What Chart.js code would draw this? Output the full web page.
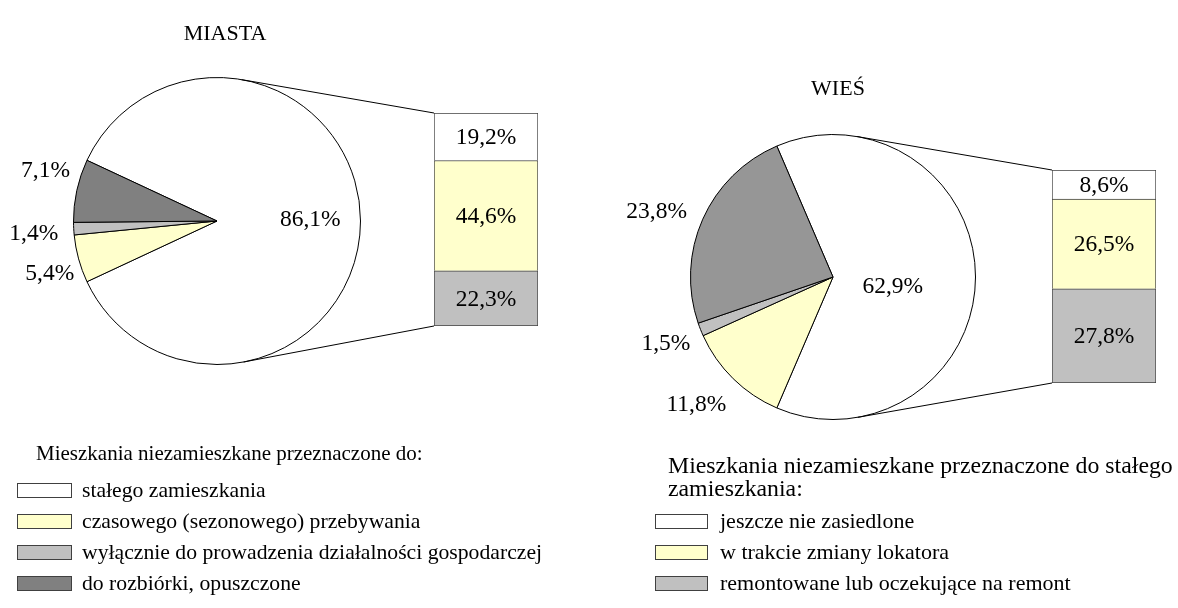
<!DOCTYPE html>
<html>
<head>
<meta charset="utf-8">
<script src="https://cdn.jsdelivr.net/npm/chart.js@4.4.1/dist/chart.umd.min.js"></script>
<style>
  body { margin: 0; background: #fff; }
  #wrap { position: relative; width: 1178px; height: 608px; overflow: hidden;
          font-family: "Liberation Serif", "Times New Roman", serif; color: #000; }
  #wrap canvas { position: absolute; left: 0; top: 0; }
  .txt { position: absolute; font-size: 22px; line-height: 26px; white-space: nowrap; }
  .box { position: absolute; width: 53px; height: 13px; border: 1px solid #404040; }
</style>
</head>
<body>
<div id="wrap">
  <canvas id="pieCity" width="1178" height="608"></canvas>
  <canvas id="barCity" width="1178" height="608"></canvas>
  <canvas id="pieVillage" width="1178" height="608"></canvas>
  <canvas id="barVillage" width="1178" height="608"></canvas>
</div>
<script>
// dane
var cityTitle = 'MIASTA';
var villageTitle = 'WIEŚ';

var pieHeader = 'Mieszkania niezamieszkane przeznaczone do:';
var pieLabels = ['stałego zamieszkania', 'czasowego (sezonowego) przebywania',
                 'wyłącznie do prowadzenia działalności gospodarczej', 'do rozbiórki, opuszczone'];
var cityPie = [86.1, 5.4, 1.4, 7.1];
var villagePie = [62.9, 11.8, 1.5, 23.8];

var barHeader = 'Mieszkania niezamieszkane przeznaczone do stałego<br>zamieszkania:';
var barLabels = ['jeszcze nie zasiedlone', 'w trakcie zmiany lokatora', 'remontowane lub oczekujące na remont'];
var cityBar = [19.2, 44.6, 22.3];
var villageBar = [8.6, 26.5, 27.8];

// kolory
var cityPieColors = ['#ffffff', '#ffffcc', '#c0c0c0', '#808080'];
var villagePieColors = ['#ffffff', '#ffffcc', '#c0c0c0', '#969696'];
var barColors = ['#ffffff', '#ffffcc', '#c0c0c0'];

var FONT = '23.5px "Liberation Serif", "Times New Roman", serif';

function fmt(v) {
  return v.toFixed(1).replace('.', ',') + '%';
}

var pieLabelPlugin = {
  id: 'pieLabels',
  afterDatasetsDraw: function(chart, args, opts) {
    var ctx = chart.ctx;
    var vals = chart.data.datasets[0].data;
    ctx.save();
    ctx.font = FONT;
    ctx.fillStyle = '#000';
    ctx.textAlign = 'center';
    ctx.textBaseline = 'middle';
    chart.getDatasetMeta(0).data.forEach(function(arc, i) {
      var p = arc.getProps(['x', 'y', 'startAngle', 'endAngle', 'outerRadius'], true);
      var mid = (p.startAngle + p.endAngle) / 2;
      var dist = i === 0 ? p.outerRadius * opts.inside : p.outerRadius + opts.outside;
      var n = opts.nudge[i] || [0, 0];
      ctx.fillText(fmt(vals[i]), p.x + Math.cos(mid) * dist + n[0], p.y + Math.sin(mid) * dist + n[1]);
    });
    ctx.restore();
  }
};

// etykiety w slupku + linie laczace z kolem
var barExtrasPlugin = {
  id: 'barExtras',
  afterDraw: function(chart, args, opts) {
    var ctx = chart.ctx;
    ctx.save();
    ctx.font = FONT;
    ctx.fillStyle = '#000';
    ctx.textAlign = 'center';
    ctx.textBaseline = 'middle';
    chart.data.datasets.forEach(function(ds, di) {
      var el = chart.getDatasetMeta(di).data[0];
      var p = el.getProps(['x', 'y', 'base'], true);
      ctx.fillText(fmt(ds.data[0]), p.x, (p.y + p.base) / 2 + 1);
    });

    var arc = opts.pie.getDatasetMeta(0).data[0];
    var c = arc.getProps(['x', 'y', 'outerRadius'], true);
    var yScale = chart.scales.y;
    var left = chart.chartArea.left;
    var corners = [[left, yScale.getPixelForValue(yScale.max), -1], [left, yScale.getPixelForValue(0), 1]];
    ctx.strokeStyle = '#000';
    ctx.lineWidth = 1;
    corners.forEach(function(pt) {
      var vx = pt[0] - c.x, vy = pt[1] - c.y;
      var d = Math.sqrt(vx * vx + vy * vy);
      var a = Math.atan2(vy, vx) + pt[2] * Math.acos(c.outerRadius / d);
      ctx.beginPath();
      ctx.moveTo(c.x + Math.cos(a) * c.outerRadius, c.y + Math.sin(a) * c.outerRadius);
      ctx.lineTo(pt[0], pt[1]);
      ctx.stroke();
    });
    ctx.restore();
  }
};

function makePie(id, values, colors, padding, labelOpts) {
  var total = values.reduce(function(s, v) { return s + v; }, 0);
  // duzy wycinek ustawiony srodkiem w strone slupka
  var rotation = 90 - values[0] / total * 180;
  return new Chart(document.getElementById(id).getContext('2d'), {
    type: 'pie',
    data: {
      labels: pieLabels,
      datasets: [{ data: values, backgroundColor: colors, borderColor: '#000', borderWidth: 1 }]
    },
    options: {
      responsive: false,
      animation: false,
      rotation: rotation,
      layout: { padding: padding },
      plugins: { legend: { display: false }, tooltip: { enabled: false }, pieLabels: labelOpts }
    },
    plugins: [pieLabelPlugin]
  });
}

function makeBar(id, values, pie, padding) {
  var total = values.reduce(function(s, v) { return s + v; }, 0);
  var datasets = [];
  for (var i = values.length - 1; i >= 0; i--) {
    datasets.push({
      label: barLabels[i],
      data: [values[i]],
      backgroundColor: barColors[i],
      borderColor: '#404040',
      borderWidth: { top: 1, left: 1, right: 1, bottom: i === values.length - 1 ? 1 : 0 },
      borderSkipped: false,
      barPercentage: 1,
      categoryPercentage: 1
    });
  }
  return new Chart(document.getElementById(id).getContext('2d'), {
    type: 'bar',
    data: { labels: [''], datasets: datasets },
    options: {
      responsive: false,
      animation: false,
      layout: { padding: padding },
      scales: {
        x: { display: false, stacked: true },
        y: { display: false, stacked: true, min: 0, max: total }
      },
      plugins: { legend: { display: false }, tooltip: { enabled: false }, barExtras: { pie: pie } }
    },
    plugins: [barExtrasPlugin]
  });
}

var pieCity = makePie('pieCity', cityPie, cityPieColors,
  { left: 73, top: 77, right: 817, bottom: 243 },
  { inside: 0.65, outside: 34, nudge: [[0, -1], [4, 6], [-6, 3], [2, -13]] });
var pieVillage = makePie('pieVillage', villagePie, villagePieColors,
  { left: 690, top: 134, right: 202, bottom: 188 },
  { inside: 0.42, outside: 34, nudge: [[0, 10], [-13, 2], [-3, 2], [-15, 6]] });

makeBar('barCity', cityBar, pieCity, { left: 434, top: 113, right: 640, bottom: 282 });
makeBar('barVillage', villageBar, pieVillage, { left: 1052, top: 170, right: 22, bottom: 225 });

// tytuly i legendy
var wrap = document.getElementById('wrap');
function addText(html, left, top, extra) {
  var d = document.createElement('div');
  d.className = 'txt';
  d.innerHTML = html;
  d.style.left = left + 'px';
  d.style.top = top + 'px';
  if (extra) Object.assign(d.style, extra);
  wrap.appendChild(d);
}
function addBox(color, left, top, width) {
  var b = document.createElement('div');
  b.className = 'box';
  b.style.background = color;
  b.style.left = left + 'px';
  b.style.top = top + 'px';
  b.style.width = width + 'px';
  wrap.appendChild(b);
}

addText(cityTitle, 125, 20);
addText(villageTitle, 738, 75);
wrap.lastChild.style.width = wrap.lastChild.previousSibling.style.width = '200px';
wrap.lastChild.style.textAlign = wrap.lastChild.previousSibling.style.textAlign = 'center';

addText(pieHeader, 36, 440, { fontSize: '21px' });
pieLabels.forEach(function(lab, i) {
  addBox(cityPieColors[i], 17, 483 + i * 31, 53);
  addText(lab, 82, 477 + i * 31, { fontSize: '21.7px' });
});

addText(barHeader, 668, 454, { fontSize: '23.8px', lineHeight: '23px' });
barLabels.forEach(function(lab, i) {
  addBox(barColors[i], 655, 514 + i * 31, 51);
  addText(lab, 720, 508 + i * 31);
});
</script>
</body>
</html>
